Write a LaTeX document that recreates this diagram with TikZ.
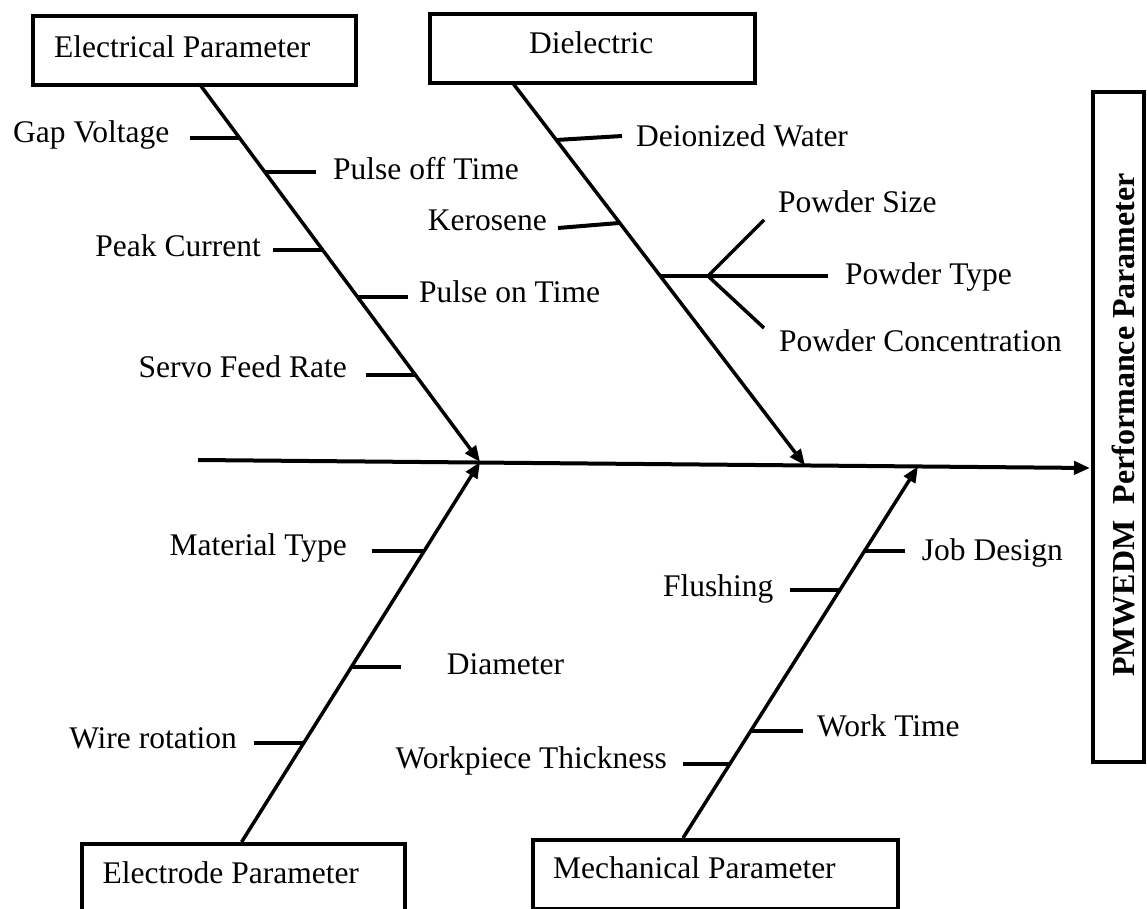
\documentclass[tikz,border=0pt]{standalone}
\usepackage{fontspec}
\setmainfont{Liberation Serif}
\usetikzlibrary{arrows.meta}
\begin{document}
\begin{tikzpicture}[x=1pt,y=-1pt,
  pbox/.style={draw,line width=4pt,inner sep=0pt,anchor=north west},
  lbl/.style={inner sep=0pt,font=\fontsize{31.5}{36}\selectfont},
  spine/.style={line width=3.5pt,-{Triangle[length=16pt,width=13pt]}},
  bone/.style={line width=3.5pt},
  tick/.style={line width=4pt}]
\useasboundingbox (0,0) rectangle (1147,909);
\clip (0,0) rectangle (1147,909);
% boxes
\node[pbox,minimum width=323pt,minimum height=69pt] (elec) at (31,14) {};
\node[lbl,anchor=base west] (elect) at (54,58) {Electrical Parameter};
\node[pbox,minimum width=325pt,minimum height=69pt] (diel) at (428,12) {};
\node[lbl,anchor=base west] (dielt) at (529,54) {Dielectric};
\node[pbox,minimum width=323pt,minimum height=80pt] (elde) at (80,842) {};
\node[lbl,anchor=base west] (eldet) at (102.5,883) {Electrode Parameter};
\node[pbox,minimum width=365pt,minimum height=69pt] (mech) at (531,838) {};
\node[lbl,anchor=base west] (mecht) at (553,878) {Mechanical Parameter};
\node[pbox,minimum width=51pt,minimum height=670pt] (pm) at (1091,90) {};
\node[lbl,rotate=90,font=\fontsize{32}{36}\selectfont\bfseries] (pmt) at (1123,425) {PMWEDM\ \ Performance Parameter};
% main line
\coordinate (m0) at (198,460);
\coordinate (m1) at (1090,468);
\draw[spine,line width=4pt] (m0) -- (m1);
% spines
\coordinate (e0) at (199.5,84);  \coordinate (et) at (480,462);
\coordinate (d0) at (512,82);    \coordinate (dt) at (805,465.4);
\coordinate (w0) at (241.6,842); \coordinate (wt) at (480,462);
\coordinate (k0) at (683,838);   \coordinate (kt) at (918,466.4);
\draw[spine] (e0) -- (et);
\draw[spine] (d0) -- (dt);
\draw[spine] (w0) -- (wt);
\draw[spine] (k0) -- (kt);
% electrical causes
\node[lbl,anchor=base west] (gv) at (13,143) {Gap Voltage};
\coordinate (gv1) at (190,138); \coordinate (gv2) at (239,138);
\draw[tick] (gv1) -- (gv2);
\node[lbl,anchor=base west] (pof) at (333,180) {Pulse off Time};
\coordinate (pof1) at (264,172); \coordinate (pof2) at (315.5,172);
\draw[tick] (pof1) -- (pof2);
\node[lbl,anchor=base east] (pc) at (261,256) {Peak Current};
\coordinate (pc1) at (273,250); \coordinate (pc2) at (322,250);
\draw[tick] (pc1) -- (pc2);
\node[lbl,anchor=base west] (pon) at (419,302) {Pulse on Time};
\coordinate (pon1) at (357,297); \coordinate (pon2) at (408,297);
\draw[tick] (pon1) -- (pon2);
\node[lbl,anchor=base east] (sfr) at (347,377) {Servo Feed Rate};
\coordinate (sfr1) at (366,375); \coordinate (sfr2) at (415,375);
\draw[tick] (sfr1) -- (sfr2);
% dielectric causes
\node[lbl,anchor=base west] (dw) at (636,147) {Deionized Water};
\coordinate (dw1) at (556,140); \coordinate (dw2) at (622,136);
\draw[tick] (dw1) -- (dw2);
\node[lbl,anchor=base east] (ker) at (547,231) {Kerosene};
\coordinate (ker1) at (558,228); \coordinate (ker2) at (619,223);
\draw[tick] (ker1) -- (ker2);
\coordinate (pw0) at (660,276); \coordinate (pwb) at (708,276);
\coordinate (pw1) at (764,220); \coordinate (pw2) at (828,276); \coordinate (pw3) at (764,328);
\draw[tick] (pw0) -- (pw2);
\draw[bone] (pwb) -- (pw1);
\draw[bone] (pwb) -- (pw3);
\node[lbl,anchor=base west] (ps) at (778,213) {Powder Size};
\node[lbl,anchor=base west] (pt) at (845,284) {Powder Type};
\node[lbl,anchor=base west] (pcn) at (779,351) {Powder Concentration};
% electrode causes
\node[lbl,anchor=base east] (mt) at (347,555) {Material Type};
\coordinate (mt1) at (371.5,551); \coordinate (mt2) at (424,551);
\draw[tick] (mt1) -- (mt2);
\node[lbl,anchor=base west] (dia) at (446.6,674) {Diameter};
\coordinate (dia1) at (351,667); \coordinate (dia2) at (401,667);
\draw[tick] (dia1) -- (dia2);
\node[lbl,anchor=base east] (wr) at (237,748) {Wire rotation};
\coordinate (wr1) at (254,743); \coordinate (wr2) at (303,743);
\draw[tick] (wr1) -- (wr2);
% mechanical causes
\node[lbl,anchor=base west] (jd) at (921.7,560) {Job Design};
\coordinate (jd1) at (864,551); \coordinate (jd2) at (905,551);
\draw[tick] (jd1) -- (jd2);
\node[lbl,anchor=base east] (fl) at (773.5,596) {Flushing};
\coordinate (fl1) at (790,590); \coordinate (fl2) at (839.5,590);
\draw[tick] (fl1) -- (fl2);
\node[lbl,anchor=base west] (wt2) at (817,736) {Work Time};
\coordinate (wk1) at (750,731); \coordinate (wk2) at (803,731);
\draw[tick] (wk1) -- (wk2);
\node[lbl,anchor=base east] (wpt) at (667,768) {Workpiece Thickness};
\coordinate (wp1) at (683,764); \coordinate (wp2) at (729,764);
\draw[tick] (wp1) -- (wp2);
\end{tikzpicture}
\end{document}
